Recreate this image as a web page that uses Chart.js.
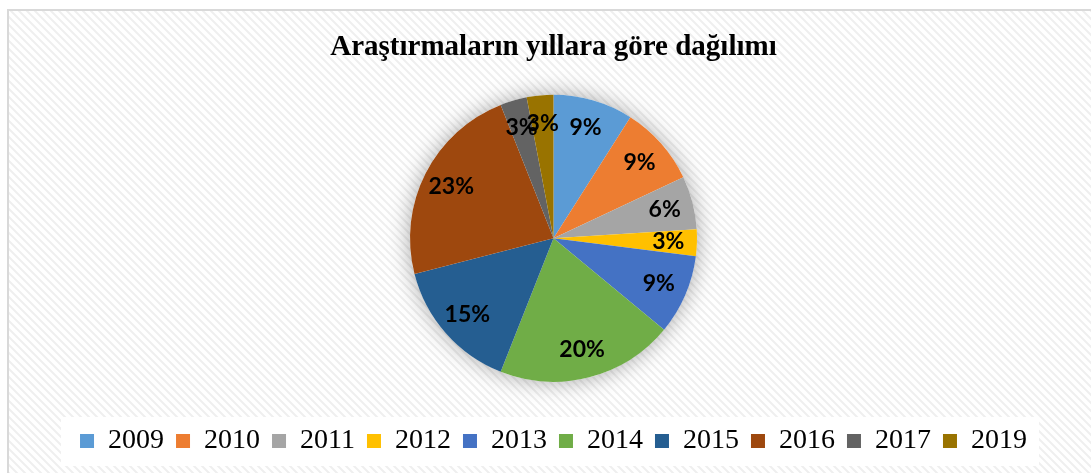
<!DOCTYPE html>
<html>
<head>
<meta charset="utf-8">
<script src="https://cdn.jsdelivr.net/npm/chart.js@4"></script>
<style>
  html, body { margin: 0; padding: 0; background: #fff; }
  #wrap { width: 1091px; height: 473px; }
</style>
</head>
<body>
<div id="wrap"><canvas id="pieChart" width="1091" height="473"></canvas></div>
<script>
var years = ['2009', '2010', '2011', '2012', '2013', '2014', '2015', '2016', '2017', '2019'];
var shares = [9, 9, 6, 3, 9, 20, 15, 23, 3, 3];
var colors = ['#5B9BD5', '#ED7D31', '#A5A5A5', '#FFC000', '#4472C4',
              '#70AD47', '#255E91', '#9E480E', '#636363', '#997300'];

// striped background, frame and white legend box
var stripes = document.createElement('canvas');
stripes.width = 8; stripes.height = 8;
var sc = stripes.getContext('2d');
sc.fillStyle = '#ffffff';
sc.fillRect(0, 0, 8, 8);
sc.strokeStyle = '#efefef';
sc.lineWidth = 2;
sc.beginPath();
sc.moveTo(-2, -2); sc.lineTo(10, 10);
sc.moveTo(-2, 6); sc.lineTo(2, 10);
sc.moveTo(6, -2); sc.lineTo(10, 2);
sc.stroke();

var backdrop = {
    id: 'backdrop',
    beforeDraw: function(chart) {
        var ctx = chart.ctx;
        ctx.save();
        ctx.fillStyle = '#ffffff';
        ctx.fillRect(0, 0, chart.width, chart.height);
        ctx.fillStyle = ctx.createPattern(stripes, 'repeat');
        ctx.fillRect(8, 10, chart.width, chart.height);
        ctx.strokeStyle = '#d9d9d9';
        ctx.lineWidth = 2;
        ctx.strokeRect(8, 10, chart.width + 20, chart.height + 20);
        var boxes = chart.legend.legendHitBoxes;
        if (boxes && boxes.length) {
            var first = boxes[0], last = boxes[boxes.length - 1];
            var cy = first.top + first.height / 2;
            ctx.fillStyle = '#ffffff';
            ctx.fillRect(first.left - 19, cy - 24, last.left + last.width - first.left + 31, 49);
        }
        ctx.restore();
    },
    beforeDatasetsDraw: function(chart) {
        var arc = chart.getDatasetMeta(0).data[0];
        if (!arc) return;
        var ctx = chart.ctx;
        ctx.save();
        ctx.shadowColor = 'rgba(0,0,0,0.35)';
        ctx.shadowBlur = 22;
        ctx.fillStyle = '#ffffff';
        ctx.beginPath();
        ctx.arc(arc.x, arc.y, arc.outerRadius, 0, Math.PI * 2);
        ctx.fill();
        ctx.restore();
    }
};

// percentage labels inside the slices
var sliceLabels = {
    id: 'sliceLabels',
    afterDatasetsDraw: function(chart) {
        var ctx = chart.ctx;
        var meta = chart.getDatasetMeta(0);
        ctx.save();
        ctx.font = 'bold 23px Lato';
        ctx.fillStyle = '#000000';
        ctx.textAlign = 'center';
        ctx.textBaseline = 'middle';
        meta.data.forEach(function(a, i) {
            var p = a.getProps(['x', 'y', 'startAngle', 'endAngle', 'outerRadius'], true);
            var mid = (p.startAngle + p.endAngle) / 2;
            var r = p.outerRadius * 0.8;
            ctx.fillText(shares[i] + '%', p.x + Math.cos(mid) * r, p.y + Math.sin(mid) * r);
        });
        ctx.restore();
    }
};

var ctx = document.getElementById('pieChart').getContext('2d');
var myChart = new Chart(ctx, {
    type: 'pie',
    data: {
        labels: years,
        datasets: [{
            data: shares,
            backgroundColor: colors,
            borderWidth: 0
        }]
    },
    options: {
        responsive: false,
        animation: false,
        layout: {
            padding: { top: 9, left: 16, right: 0, bottom: 8 }
        },
        plugins: {
            title: {
                display: true,
                text: 'Araştırmaların yıllara göre dağılımı',
                color: '#000000',
                font: { family: 'Liberation Serif', size: 29, weight: 'bold' },
                padding: { top: 21, bottom: 30 }
            },
            legend: {
                position: 'bottom',
                title: {
                    display: true,
                    text: '',
                    font: { size: 1 },
                    padding: { top: 32, bottom: 0 }
                },
                labels: {
                    color: '#000000',
                    font: { family: 'Liberation Serif', size: 28 },
                    boxWidth: 14,
                    boxHeight: 14,
                    padding: 12
                }
            },
            tooltip: { enabled: false }
        }
    },
    plugins: [backdrop, sliceLabels]
});
</script>
</body>
</html>
